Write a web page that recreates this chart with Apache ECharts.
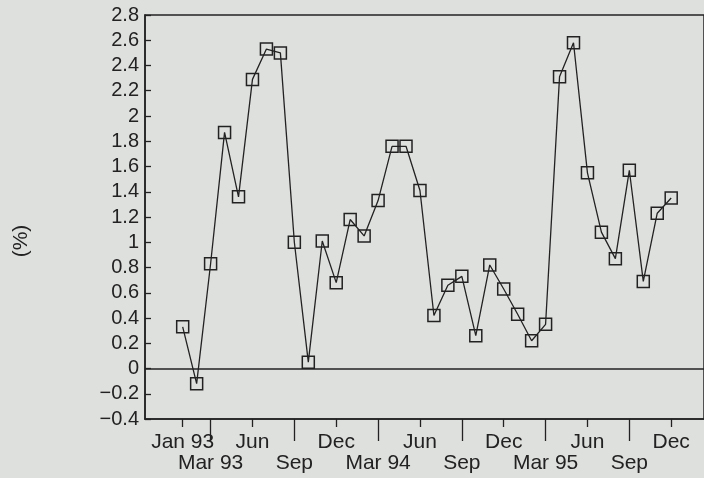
<!DOCTYPE html>
<html>
<head>
<meta charset="utf-8">
<style>
html,body{margin:0;padding:0;background:#dee0dd;}
#chart{width:704px;height:478px;}
</style>
<script src="https://cdn.jsdelivr.net/npm/echarts@6/dist/echarts.min.js"></script>
</head>
<body>
<div id="chart"></div>
<script>
const months = ['Jan 93','Feb 93','Mar 93','Apr 93','May 93','Jun 93','Jul 93','Aug 93','Sep 93','Oct 93','Nov 93','Dec 93',
  'Jan 94','Feb 94','Mar 94','Apr 94','May 94','Jun 94','Jul 94','Aug 94','Sep 94','Oct 94','Nov 94','Dec 94',
  'Jan 95','Feb 95','Mar 95','Apr 95','May 95','Jun 95','Jul 95','Aug 95','Sep 95','Oct 95','Nov 95','Dec 95'];
const values = [0.33, -0.12, 0.83, 1.87, 1.36, 2.29, 2.53, 2.50, 1.00, 0.05, 1.01, 0.68,
  1.18, 1.05, 1.33, 1.76, 1.76, 1.41, 0.42, 0.66, 0.73, 0.26, 0.82, 0.63,
  0.43, 0.22, 0.35, 2.31, 2.58, 1.55, 1.08, 0.87, 1.57, 0.69, 1.23, 1.35];
const row1Months = ['Jan 93','Jun 93','Dec 93','Jun 94','Dec 94','Jun 95','Dec 95'];
const row1Text   = ['Jan 93','Jun','Dec','Jun','Dec','Jun','Dec'];
const row2Months = ['Mar 93','Sep 93','Mar 94','Sep 94','Mar 95','Sep 95'];
const row2Text   = ['Mar 93','Sep','Mar 94','Sep','Mar 95','Sep'];
const yTitle = '(%)';

const ink = '#222';
const font = 'Liberation Sans, Arial, sans-serif';
const row1Idx = row1Months.map(m => months.indexOf(m));
const row2Idx = row2Months.map(m => months.indexOf(m));
const fmt = (idxs, texts) => v => { const k = idxs.indexOf(Math.round(v)); return k >= 0 ? texts[k] : ''; };

const chart = echarts.init(document.getElementById('chart'));
chart.setOption({
  backgroundColor: '#dee0dd',
  animation: false,
  grid: { left: 145, top: 15, width: 565, height: 404, show: true, borderColor: ink, borderWidth: 1.5, backgroundColor: 'transparent' },
  xAxis: [
    { type: 'value', min: -2.7, max: 37.35, position: 'bottom',
      axisLine: { onZero: false, lineStyle: { color: ink, width: 1.5 } },
      splitLine: { show: false },
      axisTick: { customValues: row1Idx, length: 8, lineStyle: { color: ink, width: 1.3 } },
      axisLabel: { customValues: row1Idx, formatter: fmt(row1Idx, row1Text), margin: 13, fontSize: 21, color: ink, fontFamily: font } },
    { type: 'value', min: -2.7, max: 37.35, position: 'bottom',
      axisLine: { show: false, onZero: false },
      splitLine: { show: false },
      axisTick: { customValues: row2Idx, length: 22, lineStyle: { color: ink, width: 1.3 } },
      axisLabel: { customValues: row2Idx, formatter: fmt(row2Idx, row2Text), margin: 34, fontSize: 21, color: ink, fontFamily: font } }
  ],
  yAxis: {
    type: 'value', min: -0.4, max: 2.8, interval: 0.2,
    axisLine: { show: true, onZero: false, lineStyle: { color: ink, width: 1.5 } },
    axisTick: { show: true, inside: true, length: 6, lineStyle: { color: ink, width: 1.3 } },
    splitLine: { show: false },
    axisLabel: { margin: 6, fontSize: 20, color: ink, fontFamily: font,
      formatter: v => String(Math.round(v * 10) / 10).replace('-', '\u2212') }
  },
  graphic: [{ type: 'text', x: 21, y: 241, rotation: Math.PI / 2,
    style: { text: yTitle, fontSize: 21, fontFamily: font, fill: ink, textAlign: 'center', textVerticalAlign: 'middle' } }],
  series: [{
    type: 'line', xAxisIndex: 0,
    data: values.map((v, i) => [i, v]),
    symbol: 'rect', symbolSize: 12,
    lineStyle: { color: ink, width: 1.3 },
    itemStyle: { color: 'rgba(0,0,0,0)', borderColor: ink, borderWidth: 1.5 },
    markLine: { silent: true, symbol: ['none', 'none'], label: { show: false },
      lineStyle: { color: ink, type: 'solid', width: 1.5 }, data: [{ yAxis: 0 }] }
  }]
});
</script>
</body>
</html>
